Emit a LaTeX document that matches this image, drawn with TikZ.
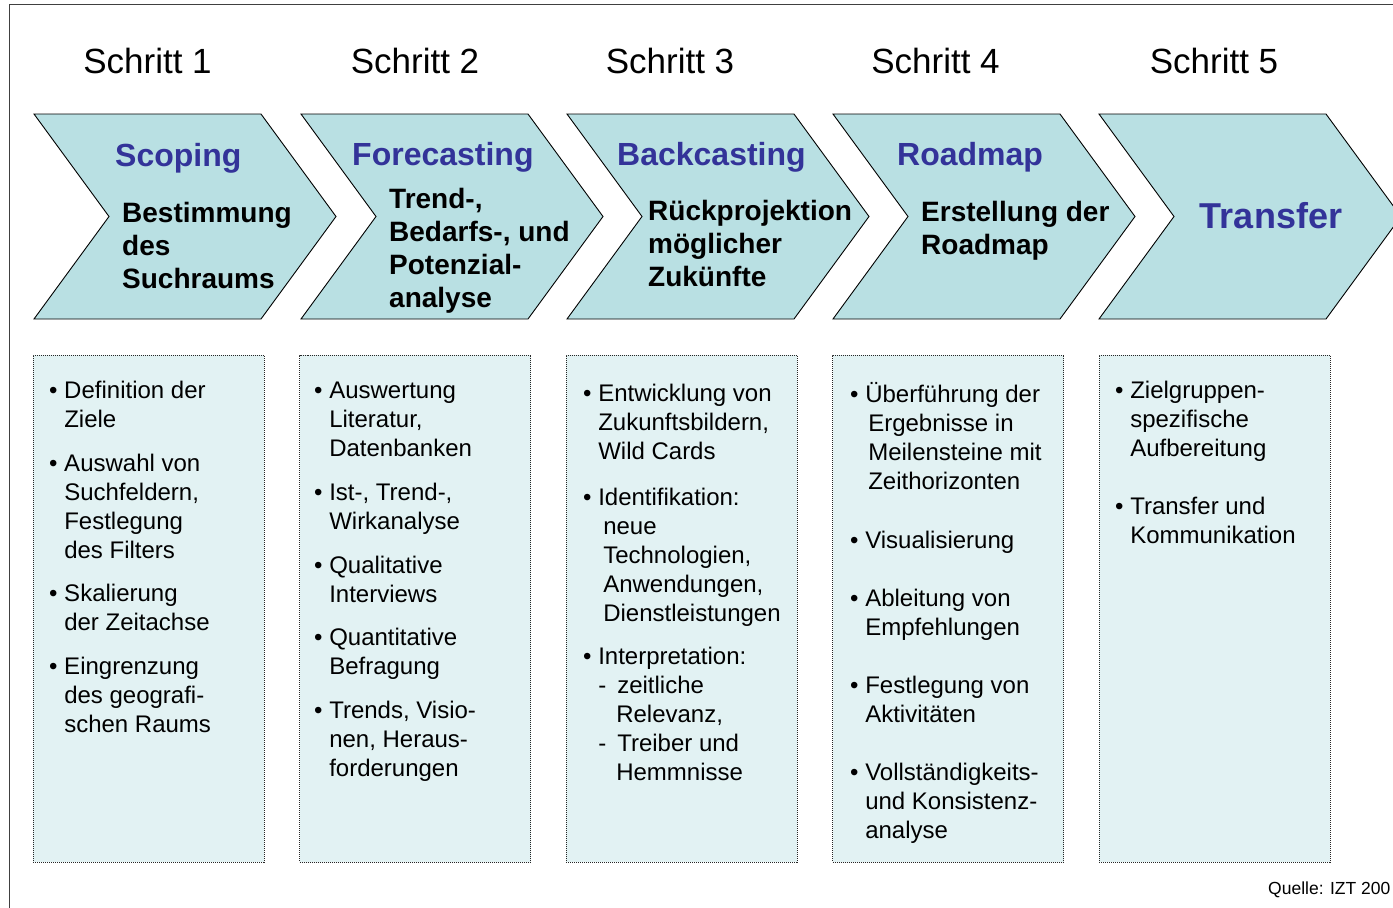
\documentclass[tikz,border=0pt]{standalone}
\usepackage{fontspec}
\setmainfont{Liberation Sans}
\usetikzlibrary{positioning}
\definecolor{chevfill}{RGB}{185,224,227}
\definecolor{boxfill}{RGB}{226,242,243}
\definecolor{phaseblue}{RGB}{51,51,153}
\definecolor{framegray}{RGB}{64,64,64}
\newcommand{\zeilen}[1]{\begin{tabular}[t]{@{}l@{}}#1\end{tabular}}
\newcommand{\pkt}[1]{\textbullet\ \zeilen{#1}}
\newcommand{\chevron}[1]{\draw[chev] (#1,114) -- ++(227,0) -- ++(75,102.5) -- ++(-75,102.5) -- ++(-227,0) -- ++(75,-102.5) -- cycle;}
\tikzset{
x=1pt, y=-1pt, % one unit = one pixel of the layout
node distance=266.5pt, % distance between the boxes below the chevrons
schritt/.style={font=\fontsize{35}{42}\selectfont, anchor=base, inner sep=0pt},
phase/.style={font=\fontsize{32}{38}\selectfont\bfseries, text=phaseblue, anchor=base west, inner sep=0pt},
ziel/.style={font=\fontsize{28}{33}\selectfont\bfseries, anchor=base west, inner sep=0pt},
chev/.style={draw=black, fill=chevfill, line width=0.9pt, line join=miter},
kasten/.style={draw=black!85, densely dotted, line width=1pt, fill=boxfill, minimum width=231pt, minimum height=507pt, inner sep=0pt},
punkt/.style={font=\fontsize{24}{29}\selectfont, anchor=base west, inner sep=0pt},
}
\begin{document}
\begin{tikzpicture}
        \useasboundingbox (0,0) rectangle (1393,908);
        \clip (0,0) rectangle (1393,908);
        \draw[framegray, line width=1.5pt] (1393,4.7) -- (9.5,4.7) -- (9.5,908);

        % steps
        \node[schritt] (s1) at (147.5,73) {Schritt 1};
        \node[schritt] (s2) at (415,73) {Schritt 2};
        \node[schritt] (s3) at (670,73) {Schritt 3};
        \node[schritt] (s4) at (935.5,73) {Schritt 4};
        \node[schritt] (s5) at (1214,73) {Schritt 5};

        % chevrons
        \chevron{34}
        \chevron{301}
        \chevron{567}
        \chevron{833}
        \chevron{1099}

        \node[phase] (ph1) at (115,166) {Scoping};
        \node[phase] (ph2) at (352,165) {Forecasting};
        \node[phase] (ph3) at (617,165) {Backcasting};
        \node[phase] (ph4) at (897,165) {Roadmap};
        \node[phase, font=\fontsize{36}{42}\selectfont\bfseries, anchor=base] (ph5) at (1271,228) {Transfer};

        \node[ziel] (z1) at (122,222) {\zeilen{Bestimmung\\des\\Suchraums}};
        \node[ziel] (z2) at (389,208) {\zeilen{Trend-,\\Bedarfs-, und\\Potenzial-\\analyse}};
        \node[ziel] (z3) at (648,220) {\zeilen{Rückprojektion\\möglicher\\Zukünfte}};
        \node[ziel] (z4) at (921,221) {\zeilen{Erstellung der\\Roadmap}};

        % boxes
        \node[kasten] (k1) at (148.5,608.5) {};
        \node[kasten, right of=k1] (k2) {};
        \node[kasten, right of=k2] (k3) {};
        \node[kasten, right of=k3] (k4) {};
        \node[kasten, right of=k4] (k5) {};

        \node[punkt] (p11) at (49,398.5) {\pkt{Definition der\\Ziele}};
        \node[punkt] (p12) at (49,471.5) {\pkt{Auswahl von\\Suchfeldern,\\Festlegung\\des Filters}};
        \node[punkt] (p13) at (49,601.5) {\pkt{Skalierung\\der Zeitachse}};
        \node[punkt] (p14) at (49,674.5) {\pkt{Eingrenzung\\des geografi-\\schen Raums}};

        \node[punkt] (p21) at (314,398.5) {\pkt{Auswertung\\Literatur,\\Datenbanken}};
        \node[punkt] (p22) at (314,500.5) {\pkt{Ist-, Trend-,\\Wirkanalyse}};
        \node[punkt] (p23) at (314,573.5) {\pkt{Qualitative\\Interviews}};
        \node[punkt] (p24) at (314,645.5) {\pkt{Quantitative\\Befragung}};
        \node[punkt] (p25) at (314,718.5) {\pkt{Trends, Visio-\\nen, Heraus-\\forderungen}};

        \node[punkt] (p31) at (583,401.5) {\pkt{Entwicklung von\\Zukunftsbildern,\\Wild Cards}};
        \node[punkt] (p32) at (583,505.5) {\pkt{Identifikation:\\\hspace*{5pt}neue\\\hspace*{5pt}Technologien,\\\hspace*{5pt}Anwendungen,\\\hspace*{5pt}Dienstleistungen}};
        \node[punkt] (p33) at (583,664.5) {\pkt{Interpretation:\\\makebox[19pt][l]{-}zeitliche\\\hspace*{18pt}Relevanz,\\\makebox[19pt][l]{-}Treiber und\\\hspace*{18pt}Hemmnisse}};

        \node[punkt] (p41) at (850,402.5) {\pkt{Überführung der\\\hspace*{3pt}Ergebnisse in\\\hspace*{3pt}Meilensteine mit\\\hspace*{3pt}Zeithorizonten}};
        \node[punkt] (p42) at (850,548.5) {\pkt{Visualisierung}};
        \node[punkt] (p43) at (850,606.5) {\pkt{Ableitung von\\Empfehlungen}};
        \node[punkt] (p44) at (850,693.5) {\pkt{Festlegung von\\Aktivitäten}};
        \node[punkt] (p45) at (850,780.5) {\pkt{Vollständigkeits-\\und Konsistenz-\\analyse}};

        \node[punkt] (p51) at (1115,398.5) {\pkt{Zielgruppen-\\spezifische\\Aufbereitung}};
        \node[punkt] (p52) at (1115,514.5) {\pkt{Transfer und\\Kommunikation}};

        \node[punkt, font=\fontsize{17.5}{21}\selectfont] (quelle) at (1268,894) {Quelle: IZT 200};
      \end{tikzpicture}
\end{document}
